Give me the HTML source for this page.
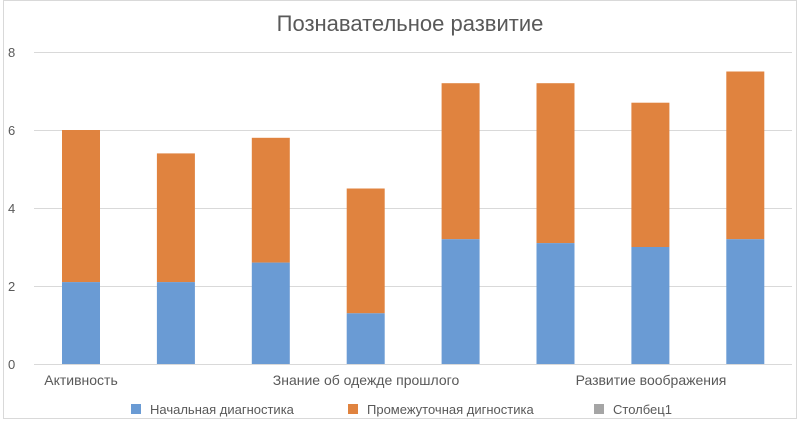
<!DOCTYPE html>
<html><head><meta charset="utf-8"><style>
body{margin:0;background:#fff;}
svg text{font-family:"Liberation Sans",sans-serif;fill:#595959;}
</style></head><body>
<svg width="800" height="426" xmlns="http://www.w3.org/2000/svg">
<rect x="3.5" y="0.5" width="793" height="418" fill="#fff" stroke="#d9d9d9"/>
<text x="410" y="31" font-size="22" text-anchor="middle">Познавательное развитие</text>
<g stroke="#d9d9d9" stroke-width="1">
<line x1="34" y1="52.5" x2="792" y2="52.5"/>
<line x1="34" y1="130.5" x2="792" y2="130.5"/>
<line x1="34" y1="208.5" x2="792" y2="208.5"/>
<line x1="34" y1="286.5" x2="792" y2="286.5"/>
<line x1="34" y1="364.5" x2="792" y2="364.5"/>
</g>
<g font-size="13">
<text x="8" y="57">8</text><text x="8" y="135">6</text><text x="8" y="213">4</text><text x="8" y="291">2</text><text x="8" y="369">0</text>
</g>
<g fill="#e0833f">
<rect x="62" y="130" width="38" height="152.1"/>
<rect x="156.9" y="153.4" width="38" height="128.7"/>
<rect x="251.8" y="137.8" width="38" height="124.8"/>
<rect x="346.7" y="188.5" width="38" height="124.8"/>
<rect x="441.6" y="83.2" width="38" height="156"/>
<rect x="536.5" y="83.2" width="38" height="159.9"/>
<rect x="631.4" y="102.7" width="38" height="144.3"/>
<rect x="726.3" y="71.5" width="38" height="167.7"/>
</g>
<g fill="#6a9bd4">
<rect x="62" y="282.1" width="38" height="81.9"/>
<rect x="156.9" y="282.1" width="38" height="81.9"/>
<rect x="251.8" y="262.6" width="38" height="101.4"/>
<rect x="346.7" y="313.3" width="38" height="50.7"/>
<rect x="441.6" y="239.2" width="38" height="124.8"/>
<rect x="536.5" y="243.1" width="38" height="120.9"/>
<rect x="631.4" y="247" width="38" height="117"/>
<rect x="726.3" y="239.2" width="38" height="124.8"/>
</g>
<g font-size="14">
<text x="81" y="385" text-anchor="middle">Активность</text>
<text x="366" y="385" text-anchor="middle">Знание об одежде прошлого</text>
<text x="651" y="385" text-anchor="middle">Развитие воображения</text>
</g>
<g font-size="13">
<rect x="131" y="404" width="10" height="10" fill="#6a9bd4"/><text x="150" y="414">Начальная диагностика</text>
<rect x="348" y="404" width="10" height="10" fill="#e0833f"/><text x="367" y="414">Промежуточная дигностика</text>
<rect x="594" y="404" width="10" height="10" fill="#a5a5a5"/><text x="613" y="414">Столбец1</text>
</g>
</svg>
</body></html>
